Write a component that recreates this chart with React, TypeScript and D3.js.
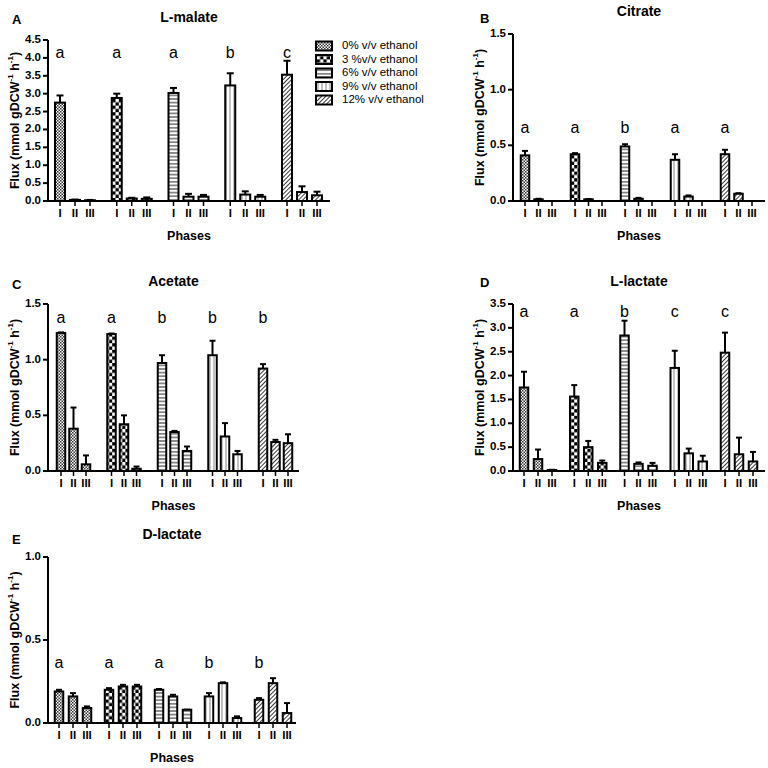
import * as d3 from "d3";

// ethanol treatments and phases
const groups = ["0% v/v ethanol", "3 %v/v ethanol", "6% v/v ethanol", "9% v/v ethanol", "12% v/v ethanol"];
const phases = ["I", "II", "III"];

// L-malate
const malateMean = [[2.75, 0.03, 0.02], [2.88, 0.07, 0.06], [3.02, 0.12, 0.12], [3.23, 0.18, 0.12], [3.53, 0.25, 0.16]];
const malateSd = [[0.2, 0.01, 0.01], [0.12, 0.02, 0.04], [0.14, 0.08, 0.05], [0.34, 0.09, 0.05], [0.39, 0.16, 0.1]];
const malateSig = ["a", "a", "a", "b", "c"];

// Citrate
const citrateMean = [[0.41, 0.015, 0], [0.42, 0.015, 0], [0.49, 0.02, 0], [0.37, 0.04, 0], [0.42, 0.065, 0]];
const citrateSd = [[0.04, 0.005, 0], [0.01, 0.003, 0], [0.02, 0.008, 0], [0.05, 0.01, 0], [0.04, 0.005, 0]];
const citrateSig = ["a", "a", "b", "a", "a"];

// Acetate
const acetateMean = [[1.24, 0.38, 0.06], [1.23, 0.42, 0.02], [0.97, 0.35, 0.18], [1.04, 0.31, 0.15], [0.92, 0.26, 0.25]];
const acetateSd = [[0.005, 0.19, 0.08], [0.005, 0.08, 0.02], [0.07, 0.01, 0.04], [0.13, 0.12, 0.03], [0.04, 0.02, 0.08]];
const acetateSig = ["a", "a", "b", "b", "b"];

// L-lactate
const llactateMean = [[1.75, 0.25, 0.02], [1.56, 0.5, 0.17], [2.84, 0.15, 0.11], [2.16, 0.37, 0.2], [2.48, 0.35, 0.2]];
const llactateSd = [[0.33, 0.2, 0.005], [0.24, 0.13, 0.05], [0.31, 0.03, 0.06], [0.36, 0.1, 0.12], [0.42, 0.35, 0.2]];
const llactateSig = ["a", "a", "b", "c", "c"];

// D-lactate
const dlactateMean = [[0.19, 0.16, 0.09], [0.2, 0.22, 0.22], [0.2, 0.16, 0.08], [0.16, 0.24, 0.03], [0.14, 0.24, 0.06]];
const dlactateSd = [[0.01, 0.02, 0.01], [0.01, 0.01, 0.01], [0.005, 0.01, 0], [0.02, 0.005, 0.01], [0.01, 0.03, 0.06]];
const dlactateSig = ["a", "a", "a", "b", "b"];

const FONT = "'Liberation Sans', Arial, sans-serif";
const patternIds = ["p0", "p1", "p2", "p3", "p4"];

const panels = [
  { letter: "A", title: "L-malate", mean: malateMean, sd: malateSd, sig: malateSig, yMax: 4.5, sigY: 4.0,
    left: 48, right: 330, top: 40, bottom: 201, gx0: 60, gx1: 287, pb: 15, barW: 10, letterX: 12, letterY: 24, titleX: 16 },
  { letter: "B", title: "Citrate", mean: citrateMean, sd: citrateSd, sig: citrateSig, yMax: 1.5, sigY: 0.61,
    left: 513, right: 765, top: 34, bottom: 201, gx0: 525, gx1: 725, pb: 13.5, barW: 8.5, letterX: 480, letterY: 23, titleX: 481 },
  { letter: "C", title: "Acetate", mean: acetateMean, sd: acetateSd, sig: acetateSig, yMax: 1.5, sigY: 1.33,
    left: 48, right: 299, top: 304, bottom: 471, gx0: 61, gx1: 263, pb: 12.5, barW: 8.5, letterX: 12, letterY: 289, titleX: 16 },
  { letter: "D", title: "L-lactate", mean: llactateMean, sd: llactateSd, sig: llactateSig, yMax: 3.5, sigY: 3.23,
    left: 513, right: 765, top: 304, bottom: 471, gx0: 524, gx1: 725, pb: 14, barW: 8.5, letterX: 480, letterY: 287, titleX: 481 },
  { letter: "E", title: "D-lactate", mean: dlactateMean, sd: dlactateSd, sig: dlactateSig, yMax: 1.0, sigY: 0.33,
    left: 48, right: 296, top: 557, bottom: 723, gx0: 59, gx1: 259, pb: 14, barW: 8.5, letterX: 12, letterY: 544, titleX: 16 },
];

function Panel({ p }: { p: (typeof panels)[number] }) {
  const y = d3.scaleLinear().domain([0, p.yMax]).range([p.bottom, p.top]);
  const gx = d3.scalePoint<string>().domain(groups).range([p.gx0, p.gx1]);
  const px = d3.scalePoint<string>().domain(phases).range([0, 2 * p.pb]);
  const ticks = d3.range(0, p.yMax + 0.001, 0.5);
  const fmt = d3.format(".1f");
  const cx = (p.left + p.right) / 2;
  const cy = (p.top + p.bottom) / 2;
  return (
    <g>
      <text transform={`translate(${p.titleX},${cy}) rotate(-90)`} fontSize={12.5} fontWeight="bold" textAnchor="middle" fontFamily={FONT} dominantBaseline="middle">
        Flux (mmol gDCW<tspan dy={-5} fontSize={8}>-1</tspan><tspan dy={5}> h</tspan><tspan dy={-5} fontSize={8}>-1</tspan><tspan dy={5}>)</tspan>
      </text>
      <text x={p.letterX} y={p.letterY} fontSize={13} fontWeight="bold" fontFamily={FONT}>{p.letter}</text>
      <text x={cx} y={p.top - 18} fontSize={14} fontWeight="bold" textAnchor="middle" fontFamily={FONT}>{p.title}</text>
      {groups.map((g, gi) =>
        phases.map((ph, pi) => {
          const v = p.mean[gi][pi];
          if (v <= 0) return null;
          const x = gx(g)! + px(ph)!;
          const top = y(v + p.sd[gi][pi]);
          const cap = p.barW * 0.35;
          return (
            <g key={g + ph}>
              <line x1={x} x2={x} y1={y(v)} y2={top} stroke="#000" strokeWidth={2} />
              <line x1={x - cap} x2={x + cap} y1={top} y2={top} stroke="#000" strokeWidth={2} />
              <rect x={x - p.barW / 2} y={y(v)} width={p.barW} height={y(0) - y(v)} fill={`url(#${patternIds[gi]})`} stroke="#000" strokeWidth={2} />
            </g>
          );
        })
      )}
      {groups.map((g, gi) => (
        <text key={"s" + g} x={gx(g)!} y={y(p.sigY)} fontSize={16} textAnchor="middle" fontFamily={FONT}>{p.sig[gi]}</text>
      ))}
      <line x1={p.left} x2={p.left} y1={p.top} y2={p.bottom} stroke="#000" strokeWidth={2} />
      <line x1={p.left} x2={p.right} y1={p.bottom} y2={p.bottom} stroke="#000" strokeWidth={2} />
      {ticks.map((t) => (
        <g key={"t" + t}>
          <line x1={p.left - 5} x2={p.left} y1={y(t)} y2={y(t)} stroke="#000" strokeWidth={2} />
          <text x={p.left - 7} y={y(t)} fontSize={11.5} fontWeight="bold" textAnchor="end" dominantBaseline="middle" fontFamily={FONT}>{fmt(t)}</text>
        </g>
      ))}
      {groups.map((g) =>
        phases.map((ph) => {
          const x = gx(g)! + px(ph)!;
          return (
            <g key={"x" + g + ph}>
              <line x1={x} x2={x} y1={p.bottom} y2={p.bottom + 5} stroke="#000" strokeWidth={1.5} />
              <text x={x} y={p.bottom + 13} fontSize={11.5} fontWeight="bold" textAnchor="middle" dominantBaseline="middle" fontFamily={FONT}>{ph}</text>
            </g>
          );
        })
      )}
      <text x={cx} y={p.bottom + 39} fontSize={12.5} fontWeight="bold" textAnchor="middle" fontFamily={FONT}>Phases</text>
    </g>
  );
}

export default function App() {
  return (
    <svg width={768} height={768} style={{ position: "absolute", left: 0, top: 0, background: "#fff" }}>
      <defs>
        <pattern id="p0" patternUnits="userSpaceOnUse" width={3} height={3}>
          <rect width={3} height={3} fill="#fff" />
          <rect width={1.5} height={1.5} fill="#333" />
          <rect x={1.5} y={1.5} width={1.5} height={1.5} fill="#333" />
        </pattern>
        <pattern id="p1" patternUnits="userSpaceOnUse" width={6.6} height={6.6}>
          <rect width={6.6} height={6.6} fill="#fff" />
          <rect width={3.3} height={3.3} fill="#000" />
          <rect x={3.3} y={3.3} width={3.3} height={3.3} fill="#000" />
        </pattern>
        <pattern id="p2" patternUnits="userSpaceOnUse" width={4} height={3.6}>
          <rect width={4} height={3.6} fill="#fff" />
          <line x1={0} x2={4} y1={1.8} y2={1.8} stroke="#222" strokeWidth={1} />
        </pattern>
        <pattern id="p3" patternUnits="userSpaceOnUse" width={4} height={4}>
          <rect width={4} height={4} fill="#fff" />
          <line x1={2} x2={2} y1={0} y2={4} stroke="#999" strokeWidth={1.2} />
        </pattern>
        <pattern id="p4" patternUnits="userSpaceOnUse" width={3} height={3} patternTransform="rotate(45)">
          <rect width={3} height={3} fill="#fff" />
          <line x1={1.5} x2={1.5} y1={0} y2={3} stroke="#222" strokeWidth={0.9} />
        </pattern>
      </defs>
      {panels.map((p) => (
        <Panel key={p.letter} p={p} />
      ))}
      {groups.map((g, i) => {
        const ly = 46 + i * 13.5;
        return (
          <g key={"l" + g}>
            <rect x={316} y={ly - 4.5} width={16} height={9} fill={`url(#${patternIds[i]})`} stroke="#000" strokeWidth={2} />
            <text x={342} y={ly} fontSize={11.5} dominantBaseline="middle" fontFamily={FONT}>{g}</text>
          </g>
        );
      })}
    </svg>
  );
}
